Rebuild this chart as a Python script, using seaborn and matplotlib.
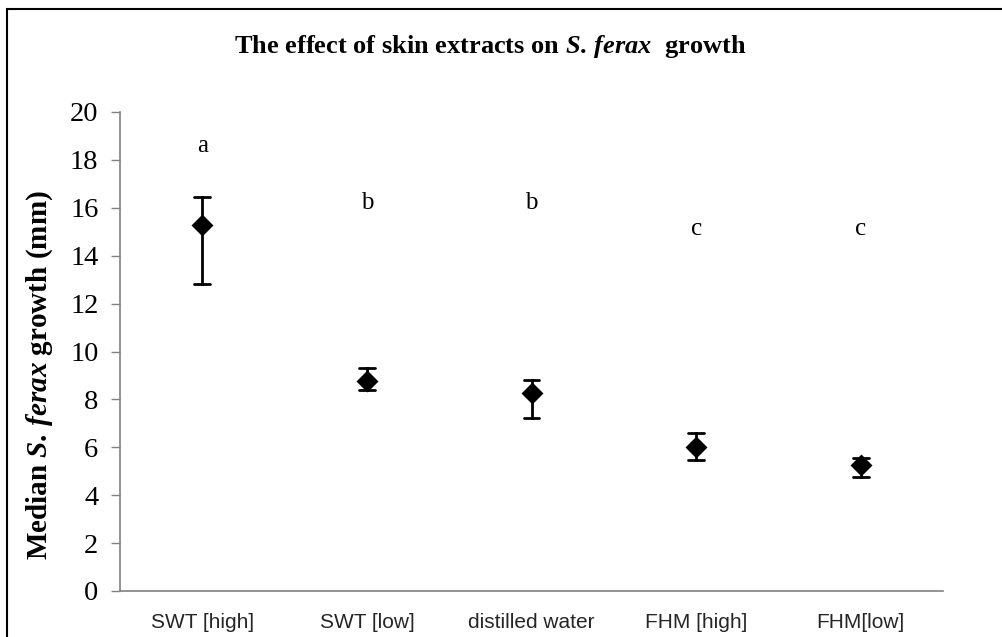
import matplotlib
matplotlib.use("Agg")
import matplotlib.pyplot as plt
from matplotlib.patches import Rectangle
import seaborn as sns
import pandas as pd

# medians and the ends of their error bars
groups = ["SWT [high]", "SWT [low]", "distilled water", "FHM [high]", "FHM[low]"]
median = [15.28, 8.78, 8.28, 6.03, 5.26]
err_low = [12.82, 8.39, 7.21, 5.47, 4.75]
err_high = [16.46, 9.30, 8.81, 6.58, 5.54]
letters = ["a", "b", "b", "c", "c"]
letter_y = [18.6, 16.2, 16.2, 15.1, 15.1]

# long table: three values per group, median is the middle one, range gives the bars
rows = []
for g, lo, m, hi in zip(groups, err_low, median, err_high):
    for v in (lo, m, hi):
        rows.append({"group": g, "growth": v})
df = pd.DataFrame(rows)

sns.set_theme(style="white")
plt.rcParams["font.family"] = ["Liberation Serif", "DejaVu Serif"]
plt.rcParams["mathtext.fontset"] = "custom"
plt.rcParams["mathtext.rm"] = "Liberation Serif:bold"
plt.rcParams["mathtext.it"] = "Liberation Serif:italic:bold"
plt.rcParams["mathtext.bf"] = "Liberation Serif:bold"

fig = plt.figure(figsize=(10.03, 6.37), dpi=100)
ax = fig.add_axes([120 / 1003, 1 - 591 / 637, (943 - 120) / 1003, (591 - 112) / 637])

sns.pointplot(data=df, x="group", y="growth", order=groups, estimator="median",
              errorbar=("pi", 100), capsize=0.095, color="black", marker="D",
              markersize=9, linestyle="none", err_kws={"linewidth": 2.0}, ax=ax)

for i, (t, y) in enumerate(zip(letters, letter_y)):
    ax.text(i, y, t, ha="center", va="center", fontsize=18, color="black")

ax.set_xlim(-0.5, len(groups) - 0.5)
ax.set_ylim(0, 20)
ax.set_yticks(range(0, 21, 2))
ax.set_xlabel("")
ax.set_ylabel("")

for s in ["top", "right"]:
    ax.spines[s].set_visible(False)
for s in ["left", "bottom"]:
    ax.spines[s].set_color("#808080")
    ax.spines[s].set_linewidth(1.2)

ax.tick_params(axis="y", left=True, length=6.5, width=1, color="#808080",
               labelsize=20.5, pad=9, labelcolor="black")
ax.tick_params(axis="x", bottom=False, length=0, pad=16)
for lab in ax.get_xticklabels():
    lab.set_fontfamily("Liberation Sans")
    lab.set_fontsize(15)

fig.text(490 / 1003, 1 - 46 / 637,
         r"The effect of skin extracts on $\mathit{S.\,ferax}$  growth",
         ha="center", va="center", fontsize=19, fontweight="bold", color="black")
fig.text(40 / 1003, 1 - 375 / 637,
         r"Median $\mathit{S.\,ferax}$ growth (mm)",
         ha="center", va="center", rotation=90, fontsize=21, fontweight="bold",
         color="black")

fig.patches.append(Rectangle((7 / 1003, -0.1), 1.2, 1 - 9 / 637 + 0.1,
                             transform=fig.transFigure, fill=False,
                             edgecolor="black", linewidth=1.5))

fig.savefig("out.png", dpi=100)
